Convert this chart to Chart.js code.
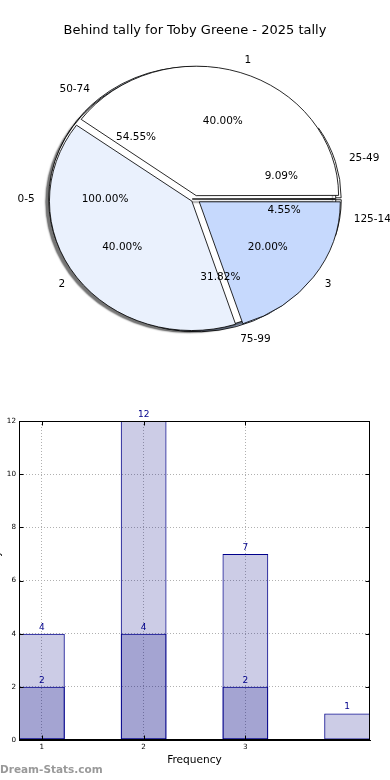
<!DOCTYPE html>
<html>
<head>
<meta charset="utf-8">
<script src="https://cdn.jsdelivr.net/npm/chart.js@4.4.1/dist/chart.umd.min.js"></script>
<style>
  html, body { margin: 0; padding: 0; background: #fff; }
  body { width: 390px; height: 780px; position: relative; overflow: hidden; font-family: "DejaVu Sans", sans-serif; }
  .layer { position: absolute; left: 0; top: 0; }
  #title { position: absolute; top: 22px; left: 0; width: 390px; text-align: center; font-size: 13px; line-height: 16px; color: #000; }
  #barChart { position: absolute; left: -13px; top: 400px; }
  #brand { position: absolute; left: 0; top: 762px; font-size: 10.5px; line-height: 14px; font-weight: bold; color: #999; }
</style>
</head>
<body>
<canvas id="pieRange" class="layer" width="390" height="398"></canvas>
<canvas id="pieAll" class="layer" width="390" height="398"></canvas>
<canvas id="pieFreq" class="layer" width="390" height="398"></canvas>
<div id="title">Behind tally for Toby Greene - 2025 tally</div>
<canvas id="barChart" width="403" height="380"></canvas>
<div id="brand">Dream-Stats.com</div>
<script>
// pies, slices listed counter-clockwise from 3 o'clock
const allLabels = ["0-5"];
const allValues = [1];
const rangeLabels = ["25-49", "50-74", "75-99", "125-149"];
const rangeValues = [2, 12, 7, 1];
const freqLabels = ["1", "2", "3"];
const freqValues = [2, 2, 1];

// bars
const barX = [1, 2, 3, 4];
const barTotals = [4, 12, 7, 1];
const barInner = [2, 4, 2, null];
const xTickValues = [1, 2, 3];
const xTickLabels = ["1", "2", "3"];
const X_MIN = 0.775, X_MAX = 4.225;
const Y_MAX = 12, Y_STEP = 2;

const FONT = "DejaVu Sans";
const pieColors = ["#ffffff", "#eaf1fd", "#c6d9fd"];
const BAR_FILL = "rgba(0,0,128,0.2)";
const BAR_EDGE = "#00008b";
const RADIUS = 128;
const STRETCH = 1.1;   // the original pie is drawn as an ellipse
const EXPLODE = 5;

// chart.js moves an arc by offset/4 * (2 - sin(angle)), undo that so every slice moves EXPLODE px
function explodeOffset(ctx) {
  const data = ctx.dataset.data;
  const total = data.reduce((a, b) => a + b, 0);
  const angle = data[ctx.dataIndex] / total * Math.PI * 2;
  const fix = 1 - Math.sin(Math.min(Math.PI, angle));
  return EXPLODE * 4 / (1 + fix);
}

const stretchPlugin = {
  id: "stretch",
  beforeDatasetsDraw(chart) {
    const a = chart.chartArea;
    const cx = (a.left + a.right) / 2, cy = (a.top + a.bottom) / 2;
    const ctx = chart.ctx;
    ctx.save();
    ctx.translate(cx, cy);
    ctx.scale(STRETCH, 1);
    ctx.translate(-cx, -cy);
  },
  afterDatasetsDraw(chart) {
    chart.ctx.restore();
  }
};

const shadowPlugin = {
  id: "shadow",
  beforeDatasetsDraw(chart) {
    const ctx = chart.ctx;
    ctx.shadowColor = "rgba(0,0,0,0.55)";
    ctx.shadowOffsetX = -3;
    ctx.shadowOffsetY = 3;
    ctx.shadowBlur = 1.5;
  }
};

const backPies = [];

// all labels on top of every pie, like matplotlib texts
const pieLabelPlugin = {
  id: "pieLabels",
  afterDraw(chart) {
    const ctx = chart.ctx;
    ctx.save();
    ctx.font = "10.5px '" + FONT + "'";
    ctx.fillStyle = "#000";
    ctx.textBaseline = "middle";
    backPies.concat([chart]).forEach(pc => {
      const meta = pc.getDatasetMeta(0);
      const labels = pc.data.labels;
      const values = pc.data.datasets[0].data;
      const total = values.reduce((a, b) => a + b, 0);
      meta.data.forEach((arc, i) => {
        const mid = (arc.startAngle + arc.endAngle) / 2;
        const shift = (arc.options.offset || 0) / 4 * (2 - Math.sin(Math.min(Math.PI, arc.circumference)));
        const at = d => [arc.x + Math.cos(mid) * (shift + d) * STRETCH, arc.y + Math.sin(mid) * (shift + d)];
        const p = at(arc.outerRadius * 0.6);
        ctx.textAlign = "center";
        ctx.fillText((values[i] / total * 100).toFixed(2) + "%", p[0], p[1]);
        const l = at(arc.outerRadius * 1.1);
        ctx.textAlign = Math.cos(mid) > 0 ? "left" : "right";
        ctx.fillText(labels[i], l[0], l[1]);
      });
    });
    ctx.restore();
  }
};

function makePie(id, labels, values, extra) {
  const colors = labels.map((_, i) => pieColors[i % pieColors.length]);
  return new Chart(document.getElementById(id), {
    type: "pie",
    data: {
      // chart.js goes clockwise, so reverse the counter-clockwise order
      labels: labels.slice().reverse(),
      datasets: [{
        data: values.slice().reverse(),
        backgroundColor: colors.reverse(),
        borderColor: "#000",
        borderWidth: 0.8,
        offset: explodeOffset,
        hoverOffset: 0
      }]
    },
    options: {
      responsive: false,
      animation: false,
      events: [],
      rotation: 90,
      radius: RADIUS,
      layout: { padding: 0 },
      plugins: { legend: { display: false }, tooltip: { enabled: false } }
    },
    plugins: [stretchPlugin].concat(extra)
  });
}

backPies.push(makePie("pieRange", rangeLabels, rangeValues, []));
backPies.push(makePie("pieAll", allLabels, allValues, [shadowPlugin]));
makePie("pieFreq", freqLabels, freqValues, [pieLabelPlugin]);

// frame, inward ticks and value labels for the bars
const framePlugin = {
  id: "frame",
  afterDatasetsDraw(chart) {
    const { ctx, chartArea: a, scales: { x, y } } = chart;
    const L = Math.round(a.left) + 0.5, R = Math.round(a.right) - 0.5;
    const T = Math.round(a.top) + 0.5, B = Math.round(a.bottom) - 0.5;
    ctx.save();
    ctx.strokeStyle = "#000";
    ctx.lineWidth = 1;
    ctx.beginPath();
    y.ticks.forEach(t => {
      const py = Math.round(y.getPixelForValue(t.value)) + 0.5;
      ctx.moveTo(L, py); ctx.lineTo(L + 4, py);
      ctx.moveTo(R, py); ctx.lineTo(R - 4, py);
    });
    x.ticks.forEach(t => {
      const px = Math.round(x.getPixelForValue(t.value)) + 0.5;
      ctx.moveTo(px, B); ctx.lineTo(px, B - 4);
      ctx.moveTo(px, T); ctx.lineTo(px, T + 4);
    });
    ctx.stroke();
    ctx.strokeRect(L, T, R - L, B - T);

    ctx.font = "9px '" + FONT + "'";
    ctx.fillStyle = BAR_EDGE;
    ctx.textAlign = "center";
    ctx.textBaseline = "bottom";
    chart.data.datasets.forEach((ds, di) => {
      chart.getDatasetMeta(di).data.forEach((bar, i) => {
        const v = ds.data[i].y;
        if (v == null) return;
        ctx.fillText(String(v), bar.x, bar.y - 2);
      });
    });
    ctx.restore();
  }
};

const barStyle = {
  backgroundColor: BAR_FILL,
  borderColor: BAR_EDGE,
  borderWidth: 1,
  borderSkipped: false,
  grouped: false,
  categoryPercentage: 0.45,
  barPercentage: 1
};

new Chart(document.getElementById("barChart"), {
  type: "bar",
  data: {
    datasets: [
      Object.assign({ label: "inner", data: barX.map((x, i) => ({ x, y: barInner[i] })), order: 0 }, barStyle),
      Object.assign({ label: "total", data: barX.map((x, i) => ({ x, y: barTotals[i] })), order: 1 }, barStyle)
    ]
  },
  options: {
    responsive: false,
    animation: false,
    events: [],
    layout: { padding: { top: 21, right: 20, left: 0, bottom: 0 } },
    scales: {
      x: {
        type: "linear",
        min: X_MIN,
        max: X_MAX,
        offset: false,
        afterBuildTicks: s => { s.ticks = xTickValues.map(v => ({ value: v })); },
        afterFit: s => { s.height = 40; },
        ticks: {
          callback: (v, i) => xTickLabels[i],
          font: { family: FONT, size: 7.2 },
          color: "#000",
          padding: 3,
          maxRotation: 0,
          autoSkip: false
        },
        grid: { color: "#b0b0b0", drawTicks: false, offset: false },
        border: { color: "#000", dash: [1, 2] },
        title: {
          display: true,
          text: "Frequency",
          font: { family: FONT, size: 10.6 },
          color: "#000",
          padding: { top: 0, bottom: 13.6 }
        }
      },
      y: {
        min: 0,
        max: Y_MAX,
        afterFit: s => { s.width = 32; },
        ticks: {
          stepSize: Y_STEP,
          font: { family: FONT, size: 7.2 },
          color: "#000",
          padding: 3
        },
        grid: { color: "#b0b0b0", drawTicks: false },
        border: { color: "#000", dash: [1, 2] },
        title: {
          display: true,
          text: "Behind tally",
          font: { family: FONT, size: 10 },
          color: "#000",
          padding: { top: 4.5, bottom: 0 }
        }
      }
    },
    plugins: { legend: { display: false }, tooltip: { enabled: false } }
  },
  plugins: [framePlugin]
});
</script>
</body>
</html>
